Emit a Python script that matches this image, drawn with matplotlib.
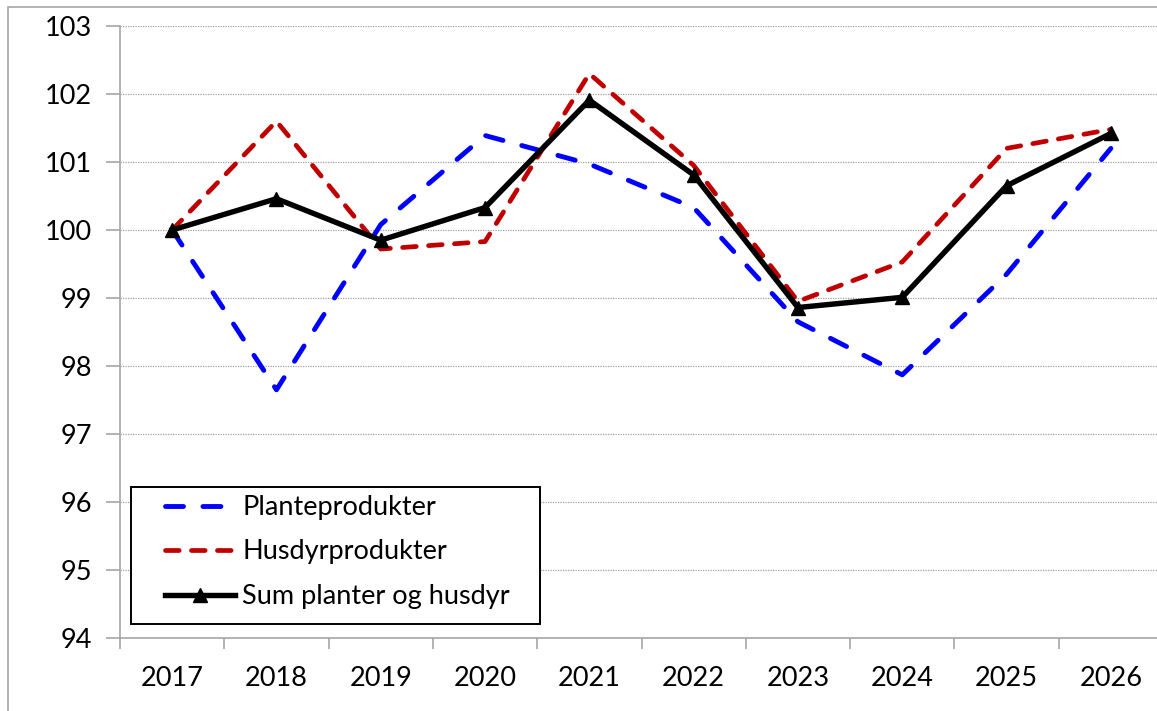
import numpy as np
import matplotlib.pyplot as plt
from matplotlib.patches import Rectangle

years = ['2017', '2018', '2019', '2020', '2021', '2022', '2023', '2024', '2025', '2026']
plante = [100.0, 97.65, 100.08, 101.39, 100.97, 100.33, 98.65, 97.87, 99.35, 101.2]
husdyr = [100.0, 101.6, 99.72, 99.83, 102.3, 100.95, 98.95, 99.53, 101.2, 101.48]
total = [100.0, 100.46, 99.85, 100.33, 101.91, 100.81, 98.86, 99.01, 100.65, 101.42]

plt.rcParams['font.family'] = ['Lato', 'DejaVu Sans']
FS = 19.5

W, H = 1157, 711
fig = plt.figure(figsize=(W / 100, H / 100), dpi=100)

# outer chart border (gray, runs off right/bottom edge)
fig.patches.append(Rectangle((8 / W, -0.1), 1.2, 1 - 7 / H + 0.1, transform=fig.transFigure,
                             fill=False, edgecolor='#a6a6a6', linewidth=1.2))

ax = fig.add_axes([120 / W, 1 - 638 / H, 1043 / W, 612 / H])
x = np.arange(len(years))

ax.plot(x, plante, color='#0000ff', lw=3.5, dashes=(3.7, 4.0), dash_capstyle='round',
        label='Planteprodukter', zorder=3)
ax.plot(x, husdyr, color='#c00000', lw=3.4, dashes=(2.9, 2.6), dash_capstyle='round',
        label='Husdyrprodukter', zorder=4)
ax.plot(x, total, color='black', lw=3.9, marker='^', ms=10, label='Sum planter og husdyr', zorder=5)

ax.set_xlim(-0.5, len(years) - 0.5)
ax.set_ylim(94, 103)
ax.set_yticks(range(94, 104))
ax.set_xticks(x)
ax.set_xticklabels(years)
ax.set_xticks(np.arange(-0.5, len(years)), minor=True)
ax.tick_params(axis='x', which='major', length=0, pad=20, labelsize=FS)
ax.tick_params(axis='x', which='minor', length=8, color='#a6a6a6', width=1.2)
ax.tick_params(axis='y', length=10, color='#a6a6a6', width=1.2, pad=10, labelsize=FS)

ax.yaxis.grid(True, linestyle=(0, (1, 1)), color='#a0a0a0', linewidth=0.9)
ax.set_axisbelow(True)
for s in ['top', 'right']:
    ax.spines[s].set_visible(False)
for s in ['left', 'bottom']:
    ax.spines[s].set_color('#a6a6a6')
    ax.spines[s].set_linewidth(1.2)

# legend box drawn separately so padding can be matched
bx0, by0, bx1, by1 = 131, 487, 540, 624
ax.add_patch(Rectangle(((bx0 - 120) / 1043, (638 - by1) / 612), (bx1 - bx0) / 1043, (by1 - by0) / 612,
                       transform=ax.transAxes, fill=True, facecolor='white', edgecolor='black',
                       linewidth=1.4, zorder=6))
leg = ax.legend(loc='upper left', bbox_to_anchor=((bx0 - 120 + 34) / 1043, (638 - by0 - 8) / 612),
                frameon=False, fontsize=FS, handlelength=2.6, handletextpad=0.25,
                labelspacing=0.72, borderaxespad=0, borderpad=0)
leg.set_zorder(7)

fig.savefig('out.png', dpi=100)
